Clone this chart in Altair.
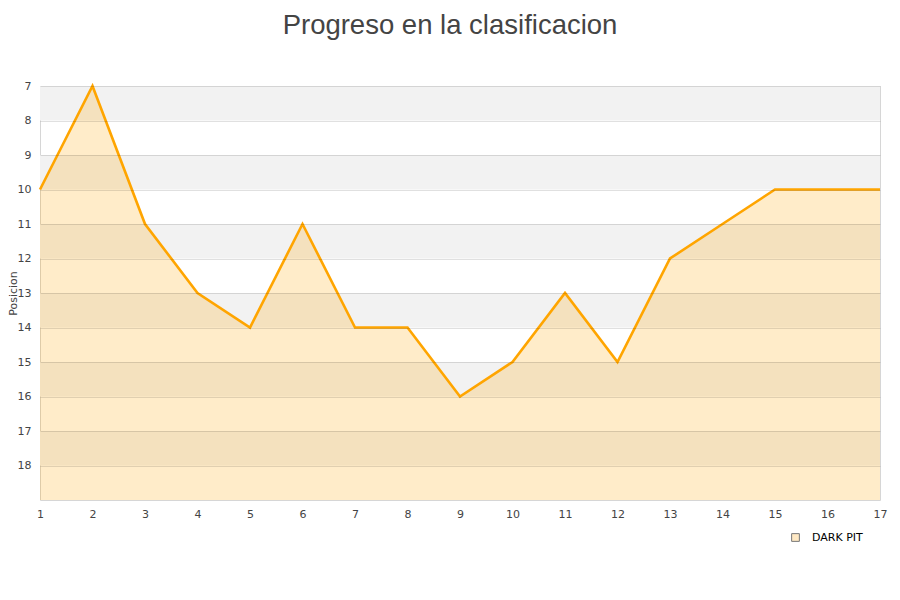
import altair as alt
import pandas as pd

jornadas = list(range(1, 18))
posiciones = [10, 7, 11, 13, 14, 11, 14, 14, 16, 15, 13, 15, 12, 11, 10, 10, 10]
equipo = "DARK PIT"
band_starts = [7, 9, 11, 13, 15, 17]
y_ticks = list(range(7, 19))

df = pd.DataFrame({"jornada": jornadas, "pos": posiciones, "equipo": [equipo] * len(jornadas), "base": [19] * len(jornadas)})
bands = pd.DataFrame({"y0": band_starts, "y1": [b + 1 for b in band_starts], "x0": [1] * len(band_starts), "x1": [17] * len(band_starts)})

xs = alt.Scale(domain=[1, 17], nice=False, zero=False)
ys = alt.Scale(domain=[7, 19], reverse=True, nice=False, zero=False)

x_axis = alt.Axis(values=jornadas, grid=False, ticks=False, domain=False, labelPadding=8,
                  labelFontSize=11, labelColor="#444", labelFont="DejaVu Sans", title=None,
                  labelFlush=False, labelOverlap=False, labelBound=False)
y_axis = alt.Axis(values=y_ticks, tickCount=12, grid=True, gridColor="#000000", gridOpacity=0.12, ticks=False, domain=False,
                  labelPadding=9, labelFontSize=11, labelColor="#444", labelFont="DejaVu Sans",
                  labelOverlap=False, labelFlush=False, labelBound=False, zindex=1,
                  title="Posicion", titleFontSize=11, titleFontWeight="normal", titleColor="#444",
                  titleFont="DejaVu Sans", titleX=-27, titleY=207, titleBaseline="middle",
                  titleAlign="center", titleAngle=270)

band_layer = alt.Chart(bands).mark_rect(color="#f2f2f2").encode(
    x=alt.X("x0:Q", scale=xs, axis=x_axis), x2="x1:Q",
    y=alt.Y("y0:Q", scale=ys, axis=y_axis), y2="y1:Q")

area = alt.Chart(df).mark_area(color="#ffa500", opacity=0.21).encode(
    x=alt.X("jornada:Q", scale=xs, axis=x_axis), y=alt.Y("pos:Q", scale=ys, axis=y_axis), y2="base:Q")

line = alt.Chart(df).mark_line(color="#ffa500", strokeWidth=2.6).encode(
    x=alt.X("jornada:Q", scale=xs, axis=x_axis), y=alt.Y("pos:Q", scale=ys, axis=y_axis))

legend_layer = alt.Chart(df).mark_square(opacity=0).encode(
    x=alt.X("jornada:Q", scale=xs, axis=x_axis), y=alt.Y("pos:Q", scale=ys, axis=y_axis),
    fill=alt.Fill("equipo:N", scale=alt.Scale(range=["#ffe9c4"]),
                  legend=alt.Legend(title=None, orient="none", legendX=750, legendY=446,
                                    symbolType="square", symbolSize=60, symbolStrokeColor="#777",
                                    symbolStrokeWidth=1, symbolOpacity=1, labelFontSize=11,
                                    labelOffset=11, labelColor="#000", labelFont="DejaVu Sans")))

chart = alt.layer(band_layer, area, line, legend_layer).properties(
    width=840, height=414,
    autosize=alt.AutoSizeParams(type="none"),
    padding={"left": 32, "top": 78, "right": 10, "bottom": 90},
    title=alt.TitleParams("Progreso en la clasificacion", fontSize=27.5, font="Liberation Sans",
                          fontWeight="normal", color="#444", anchor="middle", frame="group",
                          offset=19, baseline="alphabetic", dx=-10)
).configure_view(stroke="#d6d6d6", strokeWidth=1)

chart.save("out.html", embed_options={"renderer": "svg", "actions": False})
